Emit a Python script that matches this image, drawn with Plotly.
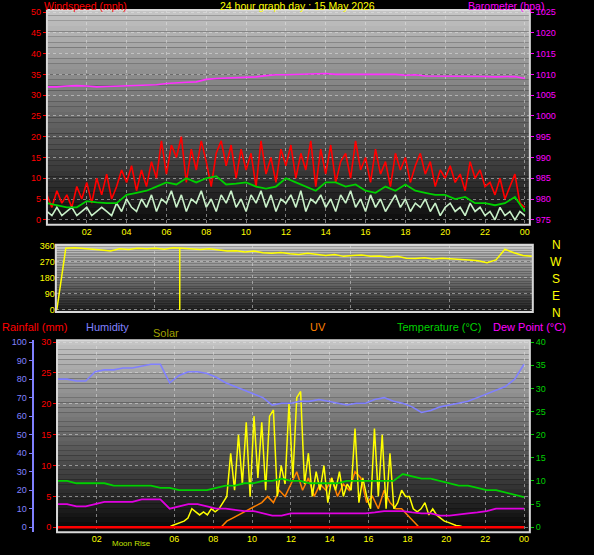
import numpy as np
import plotly.graph_objects as go

hour_ticks = [2, 4, 6, 8, 10, 12, 14, 16, 18, 20, 22, 24]
hour_labels = ["02", "04", "06", "08", "10", "12", "14", "16", "18", "20", "22", "00"]

barometer = [1007.0,1007.0,1007.2,1007.3,1007.2,1007.0,1007.1,1007.2,1007.3,1007.4,1007.4,1007.5,1007.8,1008.0,1008.1,1008.2,
             1008.8,1009.0,1009.1,1009.3,1009.4,1009.4,1009.7,1009.9,1009.9,1010.0,1010.0,1010.1,1010.2,1010.0,1010.0,1010.0,
             1009.9,1009.9,1009.9,1010.0,1009.8,1009.9,1009.6,1009.6,1009.6,1009.5,1009.5,1009.6,1009.5,1009.4,1009.4,1009.5,1009.0]
gust = [6,3,7,4,6,3,8,5,9,4,10,6,11,5,8,12,9,13,7,12,8,14,10,19,11,18,15,20,9,17,12,19,14,8,16,19,13,18,10,17,12,16,8,19,
        11,15,9,17,13,18,10,16,12,19,8,17,11,18,9,14,16,10,19,12,15,9,17,11,14,8,16,12,15,9,13,16,11,14,8,12,10,13,9,11,
        7,14,10,12,8,9,6,10,5,8,11,4,3]
speed = [2,1,3,1,2,3,1,2,3,1,2,3,2,1,4,2,5,3,2,5,3,6,2,5,4,7,3,6,2,5,4,7,3,5,2,6,4,7,3,5,2,6,4,7,3,6,2,5,4,6,3,7,2,5,
         4,6,3,5,2,6,4,7,3,5,2,6,3,5,2,4,6,3,5,2,4,3,5,2,4,1,3,4,2,3,1,4,2,3,1,2,0,3,1,2,0,2,1]
avg_wind = [4,3.5,3,3,4.5,4.2,4,4,6,6.5,7,8,9,8.5,10,9,10,10.5,8.5,8.7,9,8,7.5,8,10,9,8,7,9,9,8,8.5,7,6.5,8,7,8.5,7,
            6.5,6,6,5,5.5,4,4,3.5,4,5.5,2]

direction = [0,345,348,345,340,335,330,342,338,345,343,345,340,348,345,340,338,342,335,330,332,325,330,320,318,322,315,
             310,318,312,305,310,300,305,308,300,302,295,300,290,288,292,285,290,288,285,280,275,265,280,340,320,305,300]
dir_spike_hour = [6.3]

humidity = [80,80,79,79,84,85,85,86,86,87,88,88,78,82,84,84,83,81,78,76,74,72,70,66,67,67,68,68,69,68,67,66,67,67,
            69,70,68,67,65,62,63,65,66,67,68,70,72,74,76,80,88]
temperature = [10,10,9.5,9.5,9.5,9.5,9,9,9,9,9,8.5,8.5,8,8,8,8,8.5,9,9,9.5,9.5,10,10,10.5,10,10,9.5,9.5,9.5,9.5,10,10,
               10,10,10,10,11.5,11,10.5,10.5,10,9.5,9,9,8.5,8,8,7.5,7,6.5]
dew_point = [5,5,4.5,4.5,5,5.5,5.5,5.5,5.5,6,6,6,4,4.5,5,5,4.5,4,4,3.8,3.5,3.5,3,2.5,2.5,3,3,3,3,3,3,3,3,3,3.2,3.5,3.5,
             3.5,3.2,3,3,2.5,2.5,2.8,3,3.2,3.5,4,4,4,4]
solar = [0,0,0.3,0.5,0.8,1,1.5,3,2.5,2,2.5,2,3,2.5,3,4,5,12,6,15,7,17,5,18,8,17,6,18,19,5,10,7,20,8,21,22,7,12,5,9,6,10,
         4,8,6,9,5,7,6,16,4,8,5,3,16,5,15,3,12,3,4,6,5,5,3,2.5,3,4,2,3,2,1.5,1,0.8,0.5,0.3,0.2,0]
uv = [0,1,1.5,2,2.5,3,3.5,4,5,4,6,5,7,9,6,8,5,7,6,8,5,7,6,9,8,4,5,3,6,4,3,3,2,1,0]
rainfall = [0, 0]

FONT = "Liberation Sans"
fig = go.Figure()

def t(arr, a=0.0, b=24.0):
    return np.linspace(a, b, len(arr))

fig.add_trace(go.Scatter(x=t(gust), y=gust, mode="lines", line=dict(color="#ff0000", width=1.6), xaxis="x", yaxis="y"))
fig.add_trace(go.Scatter(x=t(speed), y=speed, mode="lines", line=dict(color="#c8f0c8", width=1.6), xaxis="x", yaxis="y"))
fig.add_trace(go.Scatter(x=t(avg_wind), y=avg_wind, mode="lines", line=dict(color="#00d000", width=1.8), xaxis="x", yaxis="y"))
fig.add_trace(go.Scatter(x=t(barometer), y=barometer, mode="lines", line=dict(color="#ff30ff", width=1.6), xaxis="x", yaxis="y2"))
fig.add_trace(go.Scatter(x=t(direction, 0.05, 24.2), y=direction, mode="lines", line=dict(color="#ffff00", width=1.5), xaxis="x2", yaxis="y3"))
fig.add_trace(go.Scatter(x=[dir_spike_hour[0], dir_spike_hour[0]], y=[0, 345], mode="lines", line=dict(color="#ffff00", width=1.5), xaxis="x2", yaxis="y3"))
fig.add_trace(go.Scatter(x=t(humidity), y=humidity, mode="lines", line=dict(color="#8080ff", width=1.6), xaxis="x3", yaxis="y5"))
fig.add_trace(go.Scatter(x=t(temperature), y=temperature, mode="lines", line=dict(color="#00d000", width=1.8), xaxis="x3", yaxis="y6"))
fig.add_trace(go.Scatter(x=t(dew_point), y=dew_point, mode="lines", line=dict(color="#e000e0", width=1.8), xaxis="x3", yaxis="y6"))
fig.add_trace(go.Scatter(x=t(uv, 8.4, 18.6), y=uv, mode="lines", line=dict(color="#ff8000", width=1.5), xaxis="x3", yaxis="y4"))
fig.add_trace(go.Scatter(x=t(solar, 5.5, 20.9), y=solar, mode="lines", line=dict(color="#ffff00", width=1.5), xaxis="x3", yaxis="y4"))
fig.add_trace(go.Scatter(x=t(rainfall), y=rainfall, mode="lines", line=dict(color="#ff0000", width=2.5), xaxis="x3", yaxis="y4"))

panels = [((0.079, 0.892), (0.595, 0.982), "#c4c4c4", "#0c0c0c"),
          ((0.094, 0.897), (0.438, 0.559), "#c8c8c8", "#202020"),
          ((0.096, 0.892), (0.041, 0.387), "#c4c4c4", "#080808")]
shapes = []
def hx(c):
    return np.array([int(c[i:i+2], 16) for i in (1, 3, 5)])
for (xd, yd, ctop, cbot) in panels:
    n = 40
    for i in range(n):
        f = i / (n - 1)
        c = hx(ctop) * (1 - f) + hx(cbot) * f
        y1 = yd[1] - (yd[1] - yd[0]) * i / n
        y0 = yd[1] - (yd[1] - yd[0]) * (i + 1) / n
        shapes.append(dict(type="rect", xref="paper", yref="paper", x0=xd[0], x1=xd[1], y0=y0, y1=y1,
                           fillcolor="rgb(%d,%d,%d)" % tuple(c), line=dict(width=0), layer="below"))
    shapes.append(dict(type="rect", xref="paper", yref="paper", x0=xd[0], x1=xd[1], y0=yd[0], y1=yd[1],
                       line=dict(color="#d8d8d8", width=2), layer="above"))

grid = dict(showgrid=True, gridcolor="rgba(230,230,230,0.5)", griddash="dot", gridwidth=1, zeroline=False, automargin=False)
xcommon = dict(range=[0, 24.25], tickvals=hour_ticks, ticktext=hour_labels, tickfont=dict(color="#ffff00", size=9, family=FONT),
               ticks="", **grid)
fig.update_layout(
    width=594, height=555, margin=dict(l=0, r=0, t=0, b=0, autoexpand=False), showlegend=False,
    paper_bgcolor="black", plot_bgcolor="rgba(0,0,0,0)", shapes=shapes,
    xaxis=dict(domain=[0.079, 0.892], anchor="y", **xcommon),
    xaxis2=dict(domain=[0.094, 0.897], anchor="y3", range=[0, 24.25], showticklabels=False, ticks="", **grid),
    xaxis3=dict(domain=[0.096, 0.892], anchor="y4", range=[-0.04, 24.3],
                tickvals=[2, 6, 8, 10, 12, 14, 16, 18, 20, 22, 24],
                ticktext=["02", "06", "08", "10", "12", "14", "16", "18", "20", "22", "00"],
                tickfont=dict(color="#ffff00", size=9, family=FONT), ticks="", **grid),
    yaxis=dict(domain=[0.595, 0.982], anchor="x", range=[-1.2, 50.5], dtick=5, tickfont=dict(color="#ff0000", size=9, family=FONT),
               ticks="outside", tickcolor="#ff0000", ticklen=3, **grid),
    yaxis2=dict(overlaying="y", side="right", anchor="x", range=[973.8, 1025.5], dtick=5, showgrid=False, zeroline=False,
                automargin=False, tickfont=dict(color="#ff00ff", size=9, family=FONT), ticks="outside", tickcolor="#ff00ff", ticklen=3),
    yaxis3=dict(domain=[0.438, 0.559], anchor="x2", range=[-11, 365], tickvals=[0, 90, 180, 270, 360],
                tickfont=dict(color="#ffff00", size=9, family=FONT), **grid),
    yaxis4=dict(domain=[0.041, 0.387], anchor="x3", range=[-0.8, 30.3], dtick=5, tickfont=dict(color="#ff0000", size=9, family=FONT),
                ticks="outside", tickcolor="#ff0000", ticklen=3, **grid),
    yaxis5=dict(overlaying="y4", anchor="free", position=0.055, range=[-2.7, 101], dtick=10, showgrid=False, zeroline=False,
                automargin=False, showline=True, linecolor="#8080ff", linewidth=2, ticks="outside", tickcolor="#8080ff", ticklen=3,
                tickfont=dict(color="#8080ff", size=9, family=FONT)),
    yaxis6=dict(overlaying="y4", side="right", anchor="x3", range=[-1.08, 40.4], dtick=5, showgrid=False, zeroline=False,
                automargin=False, ticks="outside", tickcolor="#00d000", ticklen=3, tickfont=dict(color="#00d000", size=9, family=FONT)),
)

def ann(x, y, text, color, size=11, xanchor="left"):
    fig.add_annotation(xref="paper", yref="paper", x=x / 594, y=1 - y / 555, text=text, showarrow=False,
                       font=dict(color=color, size=size, family=FONT), xanchor=xanchor, yanchor="middle")

ann(42, 6, "Windspeed (mph)", "#ff0000", size=10.5)
ann(297, 6, "24 hour graph day : 15 May 2026", "#ffff00", size=10.5, xanchor="center")
ann(546, 6, "Barometer (hpa)", "#ff00ff", size=10.5, xanchor="right")
for i, s in enumerate(["N", "W", "S", "E", "N"]):
    ann(556, 245 + i * 17, s, "#ffff00", size=12, xanchor="center")
ann(0, 327, "Rainfall (mm)", "#ff0000")
ann(84, 327, "Humidity", "#8080ff")
ann(151, 333, "Solar", "#a0a000")
ann(318, 327, "UV", "#ff8000", xanchor="center")
ann(395, 327, "Temperature (°C)", "#00d000")
ann(568, 327, "Dew Point (°C)", "#ff00ff", xanchor="right")
ann(110, 543, "Moon Rise", "#c0e000", size=8)

fig.write_html("out.html", config={"displayModeBar": False},
               post_script="document.body.style.margin='0';document.body.style.background='black';document.body.style.overflow='hidden';")
